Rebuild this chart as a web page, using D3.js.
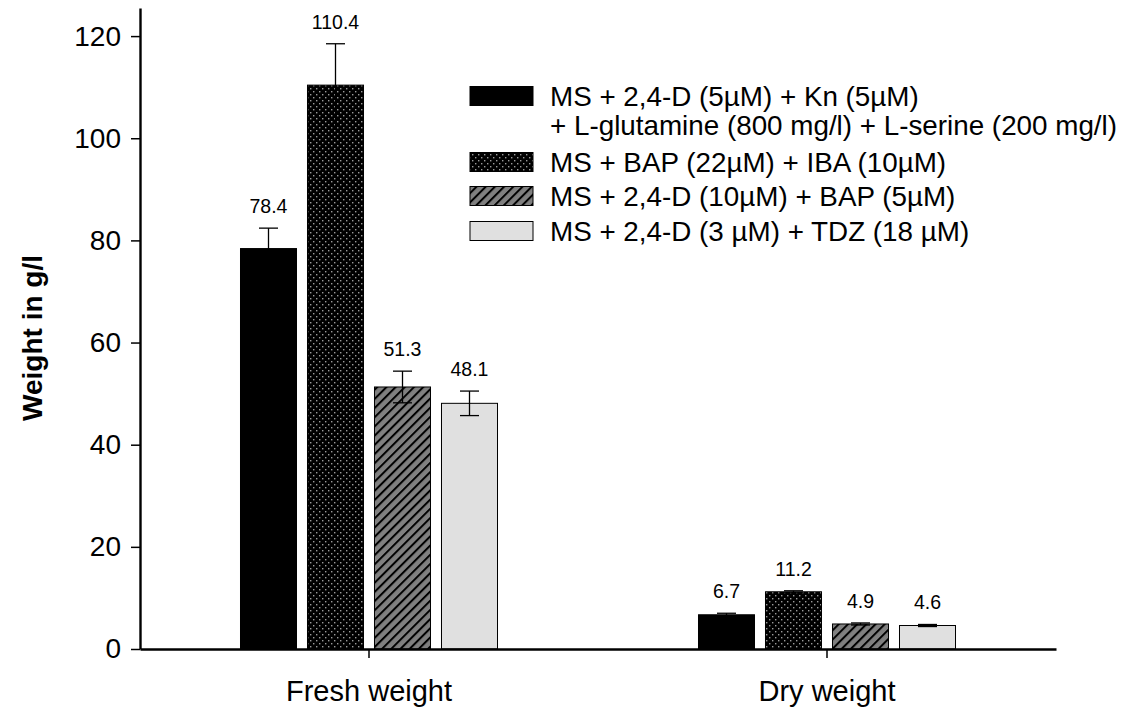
<!DOCTYPE html>
<html>
<head>
<meta charset="utf-8">
<script src="https://cdn.jsdelivr.net/npm/d3@7"></script>
<style>
  body { margin: 0; background: #fff; }
  svg { display: block; font-family: "Liberation Sans", Arial, sans-serif; }
</style>
</head>
<body>
<svg id="chart" width="1121" height="708"></svg>
<script>
// Callus weight by culture medium
const groups = ["Fresh weight", "Dry weight"];
const media = [
  ["MS + 2,4-D (5µM) + Kn (5µM)", "+ L-glutamine (800 mg/l) + L-serine (200 mg/l)"],
  ["MS + BAP (22µM) + IBA (10µM)"],
  ["MS + 2,4-D (10µM) + BAP (5µM)"],
  ["MS + 2,4-D (3 µM) + TDZ (18 µM)"]
];
const freshValues = [78.4, 110.4, 51.3, 48.1];
const freshErrors = [4.0, 8.1, 3.1, 2.4];
const dryValues = [6.7, 11.2, 4.9, 4.6];
const dryErrors = [0.3, 0.2, 0.2, 0.2];
const yTicks = [0, 20, 40, 60, 80, 100, 120];

const rows = [];
groups.forEach((g, gi) => {
  const vals = gi === 0 ? freshValues : dryValues;
  const errs = gi === 0 ? freshErrors : dryErrors;
  vals.forEach((v, si) => rows.push({ group: g, series: si, value: v, err: errs[si] }));
});

const svg = d3.select("#chart");
const plotLeft = 140, plotRight = 1056, plotTop = 8, plotBottom = 649;
const FONT = "Liberation Sans, Arial, sans-serif";

const defs = svg.append("defs");
// dotted fill: grey dots on black
const dots = defs.append("pattern").attr("id", "dots")
  .attr("patternUnits", "userSpaceOnUse").attr("width", 6).attr("height", 6);
dots.append("rect").attr("width", 6).attr("height", 6).attr("fill", "#000");
dots.append("rect").attr("x", 1).attr("y", 1).attr("width", 1.4).attr("height", 1.4).attr("fill", "#9a9a9a");
dots.append("rect").attr("x", 4).attr("y", 4).attr("width", 1.4).attr("height", 1.4).attr("fill", "#9a9a9a");
// diagonal hatch: black lines on grey
const hatch = defs.append("pattern").attr("id", "hatch")
  .attr("patternUnits", "userSpaceOnUse").attr("width", 6.5).attr("height", 6.5)
  .attr("patternTransform", "rotate(45)");
hatch.append("rect").attr("width", 6.5).attr("height", 6.5).attr("fill", "#808080");
hatch.append("rect").attr("x", 0).attr("y", 0).attr("width", 2).attr("height", 6.5).attr("fill", "#000");

const fills = ["#000", "url(#dots)", "url(#hatch)", "#e0e0e0"];

const y = d3.scaleLinear().domain([0, 125.5]).range([plotBottom, plotTop]);
const x0 = d3.scaleBand().domain(groups).range([plotLeft, plotRight]);
const x1 = d3.scaleBand().domain(d3.range(media.length))
  .range([-134, 134]).paddingInner(0.164).paddingOuter(0.082);

const barX = d => x0(d.group) + x0.bandwidth() / 2 + x1(d.series);

// bars
svg.append("g").selectAll("rect").data(rows).join("rect")
  .attr("x", barX)
  .attr("y", d => y(d.value))
  .attr("width", x1.bandwidth())
  .attr("height", d => y(0) - y(d.value))
  .attr("fill", d => fills[d.series])
  .attr("stroke", "#000").attr("stroke-width", 1);

// error bars
const eb = svg.append("g").attr("stroke", "#000").attr("stroke-width", 1.3);
rows.forEach(d => {
  const cx = barX(d) + x1.bandwidth() / 2;
  const t = y(d.value + d.err), b = y(d.value - d.err);
  eb.append("line").attr("x1", cx).attr("x2", cx).attr("y1", t).attr("y2", b);
  eb.append("line").attr("x1", cx - 9.5).attr("x2", cx + 9.5).attr("y1", t).attr("y2", t);
  eb.append("line").attr("x1", cx - 9.5).attr("x2", cx + 9.5).attr("y1", b).attr("y2", b);
});

// value labels
svg.append("g").selectAll("text").data(rows).join("text")
  .attr("x", d => barX(d) + x1.bandwidth() / 2)
  .attr("y", d => y(d.value + d.err) - 15)
  .attr("text-anchor", "middle").style("font-size", "19.5px").attr("fill", "#000")
  .text(d => d.value.toFixed(1));

// y axis
const yAxis = svg.append("g").attr("transform", `translate(${plotLeft},0)`)
  .call(d3.axisLeft(y).tickValues(yTicks).tickSize(9).tickPadding(10).tickSizeOuter(0));
yAxis.attr("font-size", null).attr("font-family", null);
yAxis.select(".domain").attr("stroke-width", 2.4);
yAxis.selectAll(".tick line").attr("stroke-width", 1.5);
yAxis.selectAll("text").style("font-size", "28px").style("font-family", FONT).attr("fill", "#000");

// x axis
const xAxis = svg.append("g").attr("transform", `translate(0,${plotBottom})`)
  .call(d3.axisBottom(x0).tickSize(9).tickPadding(22).tickSizeOuter(0));
xAxis.attr("font-size", null).attr("font-family", null);
xAxis.select(".domain").attr("stroke-width", 2.4);
xAxis.selectAll(".tick line").attr("stroke-width", 1.5);
xAxis.selectAll("text").style("font-size", "29px").style("font-family", FONT).attr("fill", "#000");

// y title
svg.append("text")
  .attr("transform", "translate(42,338) rotate(-90)")
  .attr("text-anchor", "middle").style("font-size", "28px").attr("font-weight", "bold")
  .text("Weight in g/l");

// legend
const legendRows = [96, 162, 196, 231];
const leg = svg.append("g");
media.forEach((lines, i) => {
  const cy = legendRows[i];
  leg.append("rect").attr("x", 470).attr("y", cy - 9.5).attr("width", 63).attr("height", 19)
    .attr("fill", fills[i]).attr("stroke", "#000").attr("stroke-width", 1);
  lines.forEach((ln, j) => {
    leg.append("text").attr("x", 550).attr("y", cy + 10 + j * 29)
      .style("font-size", "27.8px").attr("fill", "#000").text(ln);
  });
});
</script>
</body>
</html>
